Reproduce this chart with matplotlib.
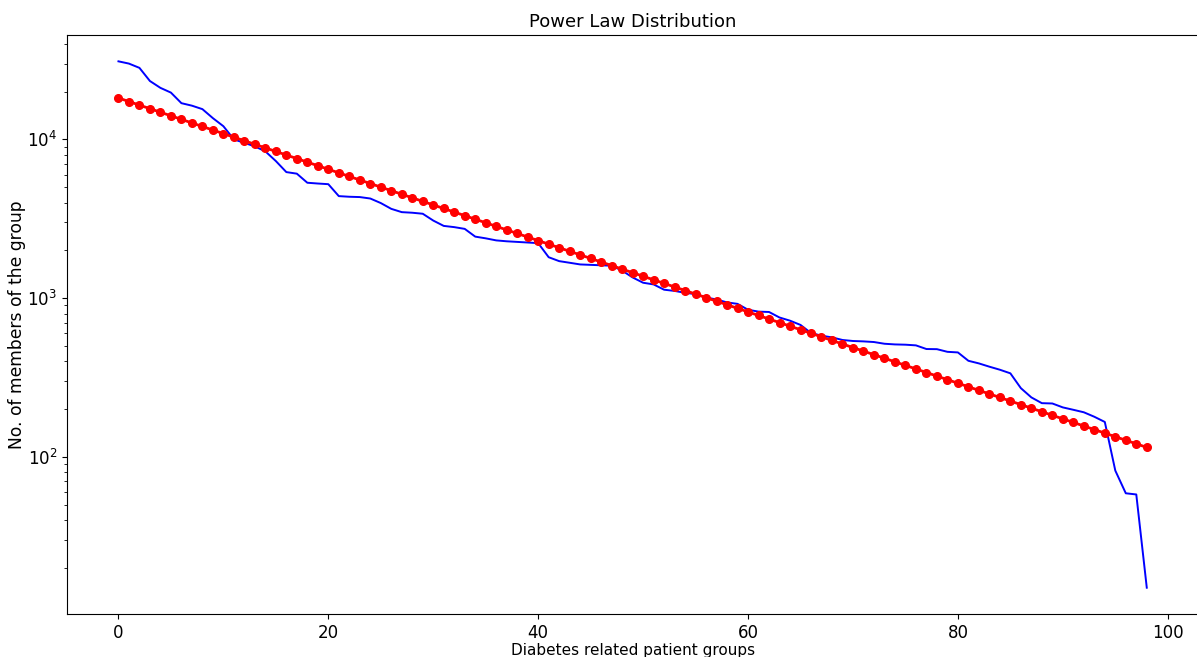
import matplotlib
matplotlib.use('Agg')
import matplotlib.pyplot as plt
import numpy as np

# members per diabetes related patient group, sorted descending
members = [31000, 30000, 28200, 23300, 21100, 19700, 16900, 16300, 15500, 13600,
           12100, 10000, 9500, 9030, 8400, 7300, 6220, 6080, 5330, 5270,
           5220, 4390, 4350, 4330, 4240, 3970, 3650, 3480, 3450, 3400,
           3080, 2850, 2800, 2730, 2440, 2380, 2310, 2280, 2260, 2240,
           2220, 1810, 1710, 1670, 1630, 1620, 1610, 1600, 1490, 1350,
           1250, 1220, 1130, 1110, 1080, 1060, 1010, 980, 940, 920,
           845, 822, 818, 755, 721, 678, 603, 580, 566, 545,
           537, 534, 529, 516, 511, 509, 504, 478, 477, 459,
           455, 403, 388, 370, 354, 336, 271, 237, 218, 217,
           205, 198, 191, 179, 166, 82, 59, 58, 15]
groups = np.arange(len(members))

# exponential fit of the counts (straight line on log axis)
slope, intercept = np.polyfit(groups, np.log(members), 1)
fit = np.exp(intercept + slope * groups)

fig = plt.figure(figsize=(11.97, 6.57), dpi=100)
ax = fig.add_axes([0.056, 0.0654, 0.945, 0.8813])
ax.plot(groups, members, color='blue', linewidth=1.4)
ax.plot(groups, fit, 'ro-', markersize=5.5, linewidth=2)
ax.set_yscale('log')
ax.set_title('Power Law Distribution', fontsize=13)
ax.set_xlabel('Diabetes related patient groups', fontsize=11, labelpad=1)
ax.set_ylabel('No. of members of the group', fontsize=12.3)
ax.yaxis.set_label_coords(-0.036, 0.5)
ax.tick_params(axis='both', labelsize=12)

fig.savefig('out.png', dpi=100)
